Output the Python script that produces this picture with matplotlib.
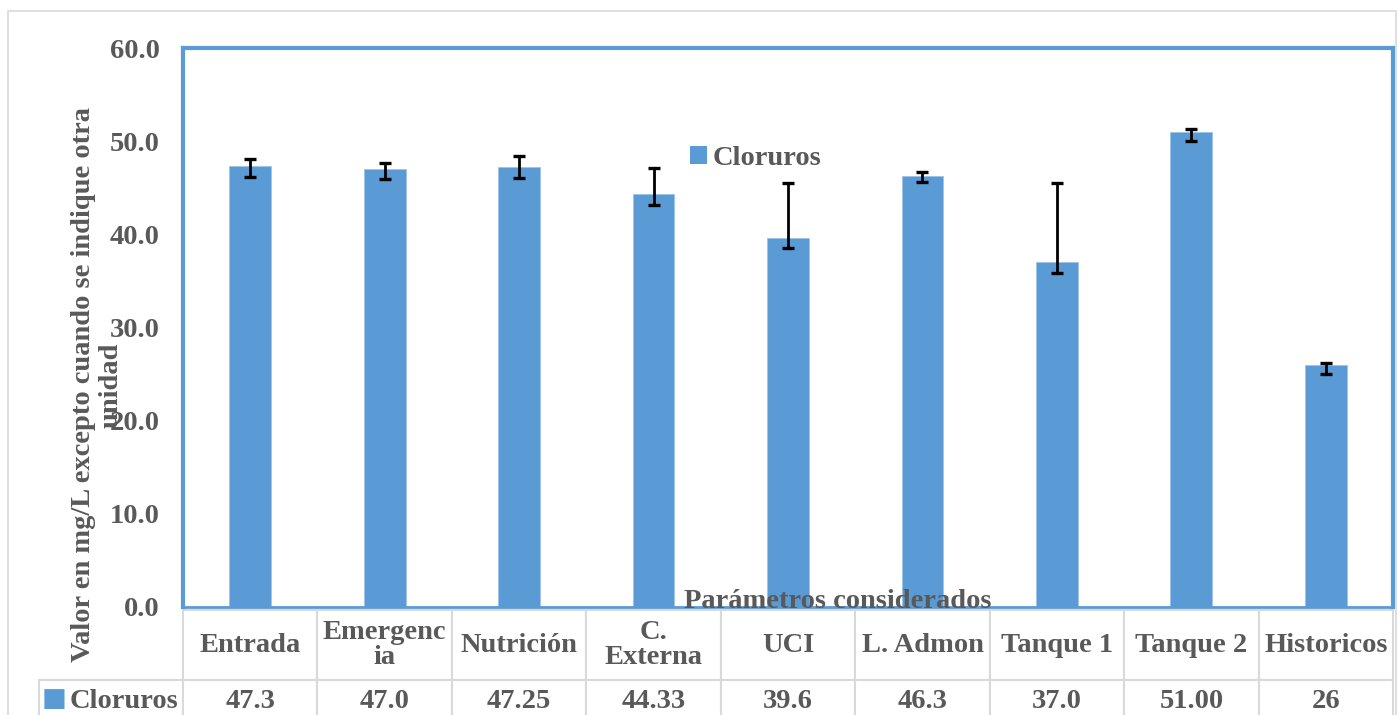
import matplotlib
matplotlib.use("Agg")
import matplotlib.pyplot as plt
from matplotlib.patches import Patch, Rectangle

# data
categories = ["Entrada", "Emergenc\nia", "Nutrición", "C.\nExterna", "UCI",
              "L. Admon", "Tanque 1", "Tanque 2", "Historicos"]
cloruros = [47.3, 47.0, 47.25, 44.33, 39.6, 46.3, 37.0, 51.00, 26]
table_labels = ["47.3", "47.0", "47.25", "44.33", "39.6", "46.3", "37.0", "51.00", "26"]
err_low = [1.1, 1.1, 1.2, 1.15, 1.1, 0.7, 1.2, 1.0, 1.0]
err_high = [0.8, 0.7, 1.2, 2.8, 5.9, 0.4, 8.5, 0.3, 0.2]
y_ticks = [0, 10, 20, 30, 40, 50, 60]

blue = "#5B9BD5"
gray_txt = "#595959"
grid_gray = "#D9D9D9"
font = ["Liberation Serif", "DejaVu Serif"]
fs = 20.5

plt.rcParams["font.family"] = font
plt.rcParams["font.weight"] = "bold"

W, H = 1398, 715
fig = plt.figure(figsize=(W / 100, H / 100), dpi=100)
fig.patch.set_facecolor("white")

# plot area in pixels: x 183-1393, y 48-607
ax = fig.add_axes([183 / W, 1 - 607 / H, 1210 / W, 559 / H])

x = list(range(len(categories)))
ax.bar(x, cloruros, width=0.31, color=blue, edgecolor="#9DC3E6", linewidth=0.6, zorder=2)
ax.errorbar(x, cloruros, yerr=[err_low, err_high], fmt="none", ecolor="black",
            elinewidth=2, capsize=4.5, capthick=2.4, zorder=3)

ax.set_xlim(-0.5, len(categories) - 0.5)
ax.set_ylim(0, 60)
ax.set_yticks(y_ticks)
ax.set_yticklabels([f"{v:.1f}" for v in y_ticks], fontsize=fs, fontweight="bold", color=gray_txt)
ax.tick_params(axis="y", length=0, pad=17)
ax.set_xticks([])
for s in ax.spines.values():
    s.set_color(blue)
    s.set_linewidth(3)
ax.spines["bottom"].set_linewidth(2)

# legend inside plot
leg = ax.legend(handles=[Patch(facecolor=blue, label="Cloruros")], loc="center left",
                bbox_to_anchor=(0.419, 0.803), frameon=False, handlelength=0.6,
                handleheight=0.6, handletextpad=0.2, borderpad=0, borderaxespad=0,
                prop={"size": fs, "weight": "bold", "family": font})
for t in leg.get_texts():
    t.set_color(gray_txt)

# axis titles
ax.text(0.541, 0.01, "Parámetros considerados", transform=ax.transAxes, ha="center",
        va="center", fontsize=fs, fontweight="bold", color=gray_txt, zorder=5)
fig.text(97 / W, 1 - 385 / H, "Valor en mg/L excepto cuando se indique otra\nunidad",
         rotation=90, ha="center", va="center", multialignment="center",
         fontsize=fs, fontweight="bold", color=gray_txt, linespacing=1.15)

# data table below the plot
cell_text = [[""] + categories, ["Cloruros"] + table_labels]
first_w = 144 / 1210
col_w = [first_w] + [1 / 9] * 9
tbl = ax.table(cellText=cell_text, colWidths=col_w, cellLoc="center",
               bbox=[-first_w, -(722 - 607) / 559, 1 + first_w, (722 - 610) / 559])
tbl.auto_set_font_size(False)
for (r, c), cell in tbl.get_celld().items():
    cell.set_edgecolor(grid_gray)
    cell.set_linewidth(1.5)
    cell.set_height(70 if r == 0 else 42)
    txt = cell.get_text()
    txt.set_fontsize(fs)
    txt.set_fontweight("bold")
    txt.set_color(gray_txt)
    txt.set_linespacing(1.05)
    if r == 0 and c == 0:
        cell.visible_edges = ""
    if r == 1 and c == 0:
        cell.set_text_props(ha="right")
        cell._loc = "right"
        cell.PAD = 0.03
fig.text(42 / W, 1 - 699 / H, "■", color=blue, fontsize=19, ha="left", va="center",
         family=["DejaVu Sans"])

# light chart border
fig.patches.append(Rectangle((8 / W, -0.05), (1396 - 8) / W, 1.05 - 11 / H,
                             transform=fig.transFigure, fill=False,
                             edgecolor=grid_gray, linewidth=1.2))

fig.savefig("out.png", dpi=100)
